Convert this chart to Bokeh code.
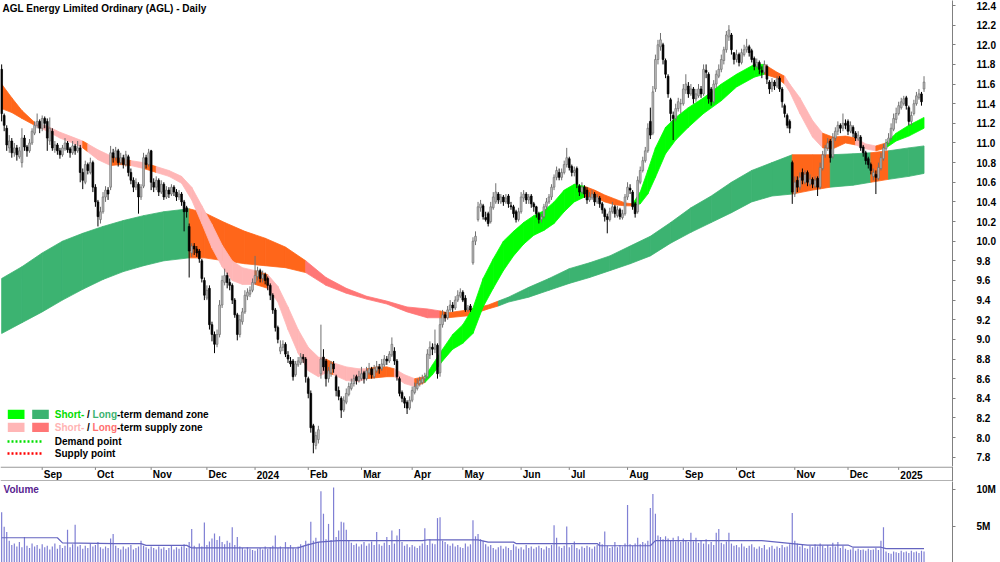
import numpy as np
import pandas as pd
from bokeh.plotting import figure
from bokeh.layouts import column
from bokeh.models import Range1d, FixedTicker, PrintfTickFormatter, ColumnDataSource, Span
from bokeh.core.properties import value
from bokeh.embed import file_html
from bokeh.resources import INLINE

# ---------------- data ----------------
START, END = "2023-08-10", "2025-01-16"
HOLIDAYS = ["2023-12-25", "2023-12-26", "2024-01-01", "2024-01-26", "2024-03-29",
            "2024-04-01", "2024-04-25", "2024-06-10", "2024-12-25", "2024-12-26", "2025-01-01"]

OPEN = [
    11.75, 11.28, 11.15, 10.95, 11.02, 10.90, 10.95, 10.86, 10.80, 11.05,
    10.96, 10.92, 11.00, 11.10, 11.18, 11.22, 11.15, 11.25, 11.22, 11.02,
    11.12, 10.93, 10.98, 10.92, 10.88, 10.94, 11.00, 10.94, 10.90, 10.97,
    10.92, 10.95, 10.70, 10.60, 10.78, 10.70, 10.80, 10.55, 10.40, 10.22,
    10.30, 10.45, 10.52, 10.55, 10.90, 10.85, 10.92, 10.80, 10.85, 10.78,
    10.86, 10.70, 10.62, 10.55, 10.58, 10.45, 10.56, 10.85, 10.78, 10.92,
    10.60, 10.55, 10.62, 10.50, 10.58, 10.45, 10.52, 10.48, 10.55, 10.50,
    10.45, 10.48, 10.40, 10.34, 10.15, 9.88, 9.95, 9.92, 9.90, 9.80,
    9.60, 9.42, 9.52, 9.15, 9.05, 8.95, 9.05, 9.35, 9.58, 9.65,
    9.58, 9.55, 9.40, 9.25, 9.05, 9.18, 9.28, 9.44, 9.46, 9.50,
    9.58, 9.64, 9.70, 9.62, 9.66, 9.62, 9.55, 9.45, 9.30, 9.12,
    8.88, 8.92, 8.95, 8.84, 8.78, 8.78, 8.64, 8.74, 8.76, 8.82,
    8.80, 8.60, 8.45, 8.12, 7.92, 7.98, 8.65, 8.82, 8.78, 8.60,
    8.66, 8.75, 8.62, 8.48, 8.40, 8.28, 8.36, 8.44, 8.50, 8.55,
    8.62, 8.58, 8.60, 8.66, 8.60, 8.66, 8.70, 8.62, 8.68, 8.72,
    8.70, 8.74, 8.80, 8.78, 8.84, 8.88, 8.78, 8.60, 8.46, 8.40,
    8.36, 8.30, 8.38, 8.46, 8.50, 8.55, 8.56, 8.60, 8.62, 8.84,
    8.92, 8.90, 8.94, 8.66, 9.15, 9.25, 9.22, 9.30, 9.35, 9.32,
    9.40, 9.44, 9.48, 9.42, 9.30, 9.34, 9.78, 10.00, 10.22, 10.34,
    10.36, 10.24, 10.28, 10.20, 10.34, 10.40, 10.48, 10.40, 10.45, 10.40,
    10.46, 10.36, 10.35, 10.30, 10.22, 10.30, 10.44, 10.48, 10.42, 10.46,
    10.38, 10.35, 10.28, 10.22, 10.25, 10.35, 10.40, 10.45, 10.55, 10.65,
    10.70, 10.65, 10.70, 10.78, 10.84, 10.76, 10.70, 10.74, 10.56, 10.50,
    10.55, 10.52, 10.42, 10.44, 10.48, 10.40, 10.44, 10.38, 10.32, 10.25,
    10.22, 10.30, 10.35, 10.26, 10.32, 10.24, 10.28, 10.45, 10.54, 10.50,
    10.38, 10.30, 10.60, 10.72, 10.82, 10.92, 11.22, 11.10, 11.55, 11.85,
    11.98, 12.00, 11.84, 11.68, 11.44, 11.28, 11.25, 11.35, 11.40, 11.40,
    11.54, 11.58, 11.50, 11.55, 11.45, 11.48, 11.55, 11.50, 11.74, 11.70,
    11.55, 11.42, 11.60, 11.68, 11.75, 11.84, 11.95, 12.08, 12.10, 11.92,
    11.85, 11.90, 11.82, 11.90, 11.95, 11.98, 11.94, 11.86, 11.78, 11.82,
    11.74, 11.72, 11.78, 11.62, 11.55, 11.62, 11.58, 11.66, 11.55, 11.38,
    11.28, 11.22, 10.80, 10.48, 10.62, 10.55, 10.70, 10.60, 10.70, 10.58,
    10.63, 10.56, 10.64, 10.55, 10.74, 10.88, 10.95, 11.02, 10.86, 11.05,
    11.12, 11.18, 11.15, 11.20, 11.22, 11.12, 11.16, 11.10, 11.04, 11.06,
    10.96, 10.90, 10.84, 10.78, 10.66, 10.68, 10.64, 10.74, 10.84, 10.94,
    11.00, 11.05, 11.14, 11.24, 11.30, 11.36, 11.40, 11.46, 11.36, 11.22,
    11.30, 11.40, 11.46, 11.50, 11.55,
]
HIGH = [
    11.80, 11.30, 11.18, 11.08, 11.05, 11.00, 10.98, 10.96, 11.15, 11.08,
    10.98, 11.04, 11.15, 11.22, 11.30, 11.24, 11.28, 11.27, 11.25, 11.26,
    11.15, 11.02, 11.00, 10.95, 10.98, 11.05, 11.02, 10.96, 11.02, 10.99,
    11.02, 10.98, 10.74, 10.82, 10.80, 10.85, 10.82, 10.58, 10.42, 10.35,
    10.50, 10.56, 10.55, 10.97, 10.94, 10.96, 10.94, 10.90, 10.88, 10.92,
    10.88, 10.74, 10.65, 10.64, 10.60, 10.58, 10.90, 10.88, 10.94, 10.93,
    10.64, 10.66, 10.64, 10.62, 10.60, 10.56, 10.55, 10.58, 10.57, 10.53,
    10.52, 10.50, 10.42, 10.36, 10.18, 9.98, 9.98, 9.95, 9.92, 9.82,
    9.63, 9.55, 9.55, 9.18, 9.08, 9.10, 9.40, 9.65, 9.72, 9.68,
    9.62, 9.57, 9.42, 9.27, 9.25, 9.32, 9.50, 9.52, 9.54, 9.62,
    9.85, 9.74, 9.72, 9.70, 9.68, 9.64, 9.57, 9.47, 9.32, 9.14,
    8.99, 8.99, 8.97, 8.88, 8.82, 8.80, 8.78, 8.82, 8.86, 8.85,
    8.82, 8.62, 8.48, 8.14, 8.06, 8.12, 9.15, 8.90, 8.80, 8.72,
    8.78, 8.78, 8.64, 8.52, 8.42, 8.42, 8.50, 8.56, 8.60, 8.64,
    8.64, 8.68, 8.72, 8.68, 8.72, 8.76, 8.72, 8.74, 8.78, 8.75,
    8.80, 8.84, 8.83, 8.88, 9.02, 8.92, 8.80, 8.62, 8.48, 8.42,
    8.38, 8.42, 8.52, 8.56, 8.60, 8.62, 8.64, 8.66, 8.90, 8.98,
    8.96, 9.10, 8.96, 9.22, 9.30, 9.28, 9.34, 9.40, 9.38, 9.44,
    9.50, 9.52, 9.50, 9.45, 9.35, 9.36, 10.04, 10.10, 10.40, 10.42,
    10.38, 10.30, 10.30, 10.40, 10.50, 10.59, 10.50, 10.48, 10.47, 10.48,
    10.48, 10.40, 10.37, 10.32, 10.34, 10.50, 10.52, 10.50, 10.48, 10.48,
    10.40, 10.36, 10.30, 10.28, 10.38, 10.44, 10.48, 10.58, 10.68, 10.76,
    10.74, 10.74, 10.82, 10.95, 10.86, 10.78, 10.76, 10.76, 10.58, 10.60,
    10.57, 10.55, 10.50, 10.52, 10.50, 10.48, 10.46, 10.40, 10.34, 10.28,
    10.34, 10.40, 10.37, 10.36, 10.34, 10.32, 10.48, 10.60, 10.58, 10.52,
    10.40, 10.66, 10.76, 10.86, 10.96, 11.20, 11.36, 11.58, 11.90, 12.05,
    12.12, 12.02, 11.86, 11.70, 11.46, 11.32, 11.40, 11.46, 11.45, 11.60,
    11.70, 11.62, 11.60, 11.57, 11.55, 11.60, 11.58, 11.80, 11.80, 11.72,
    11.57, 11.64, 11.74, 11.80, 11.90, 11.98, 12.14, 12.20, 12.12, 11.92,
    11.95, 11.92, 11.96, 12.00, 12.06, 12.00, 11.96, 11.88, 11.86, 11.84,
    11.78, 11.84, 11.80, 11.64, 11.66, 11.64, 11.68, 11.68, 11.57, 11.40,
    11.30, 11.24, 10.82, 10.66, 10.66, 10.70, 10.74, 10.72, 10.72, 10.68,
    10.65, 10.66, 10.66, 10.80, 10.92, 10.98, 11.05, 11.04, 11.10, 11.16,
    11.22, 11.20, 11.30, 11.24, 11.24, 11.22, 11.18, 11.12, 11.12, 11.08,
    10.98, 10.92, 10.86, 10.80, 10.74, 10.72, 10.80, 10.90, 10.99, 11.04,
    11.10, 11.20, 11.30, 11.36, 11.42, 11.46, 11.48, 11.48, 11.38, 11.32,
    11.44, 11.52, 11.55, 11.52, 11.68,
]
LOW = [
    11.22, 11.12, 10.92, 10.90, 10.85, 10.86, 10.82, 10.84, 10.75, 10.92,
    10.86, 10.90, 10.98, 11.08, 11.15, 11.10, 11.12, 11.15, 10.92, 10.98,
    10.92, 10.90, 10.88, 10.84, 10.86, 10.92, 10.90, 10.85, 10.88, 10.88,
    10.90, 10.60, 10.53, 10.58, 10.68, 10.68, 10.50, 10.35, 10.15, 10.18,
    10.28, 10.40, 10.42, 10.52, 10.80, 10.82, 10.76, 10.78, 10.74, 10.76,
    10.66, 10.58, 10.50, 10.52, 10.28, 10.42, 10.54, 10.74, 10.76, 10.52,
    10.50, 10.52, 10.46, 10.48, 10.42, 10.43, 10.44, 10.46, 10.46, 10.41,
    10.42, 10.36, 10.10, 10.24, 9.63, 9.84, 9.86, 9.84, 9.78, 9.58,
    9.40, 9.40, 9.10, 8.98, 8.86, 8.92, 9.02, 9.32, 9.55, 9.52,
    9.50, 9.36, 9.22, 8.99, 9.02, 9.15, 9.26, 9.40, 9.43, 9.48,
    9.56, 9.60, 9.58, 9.58, 9.56, 9.50, 9.40, 9.26, 9.08, 8.96,
    8.85, 8.88, 8.82, 8.76, 8.72, 8.58, 8.62, 8.72, 8.74, 8.76,
    8.56, 8.40, 8.05, 7.84, 7.88, 7.94, 8.60, 8.68, 8.52, 8.56,
    8.62, 8.66, 8.42, 8.38, 8.20, 8.26, 8.34, 8.42, 8.48, 8.52,
    8.54, 8.56, 8.58, 8.55, 8.58, 8.64, 8.60, 8.60, 8.66, 8.65,
    8.68, 8.72, 8.74, 8.76, 8.82, 8.74, 8.58, 8.42, 8.36, 8.30,
    8.24, 8.28, 8.36, 8.44, 8.48, 8.52, 8.54, 8.56, 8.60, 8.80,
    8.84, 8.86, 8.60, 8.62, 9.12, 9.18, 9.20, 9.28, 9.28, 9.30,
    9.38, 9.42, 9.38, 9.28, 9.28, 9.28, 9.76, 9.96, 10.20, 10.30,
    10.22, 10.20, 10.15, 10.18, 10.32, 10.38, 10.38, 10.38, 10.36, 10.38,
    10.34, 10.32, 10.24, 10.19, 10.20, 10.28, 10.40, 10.38, 10.38, 10.34,
    10.30, 10.24, 10.18, 10.19, 10.23, 10.32, 10.38, 10.42, 10.52, 10.62,
    10.62, 10.62, 10.68, 10.75, 10.72, 10.66, 10.66, 10.54, 10.46, 10.48,
    10.44, 10.38, 10.40, 10.42, 10.36, 10.38, 10.34, 10.28, 10.20, 10.08,
    10.20, 10.28, 10.24, 10.24, 10.22, 10.22, 10.26, 10.42, 10.48, 10.32,
    10.24, 10.28, 10.58, 10.70, 10.80, 10.90, 11.04, 11.08, 11.52, 11.80,
    11.94, 11.80, 11.66, 11.46, 11.22, 11.03, 11.22, 11.32, 11.30, 11.38,
    11.50, 11.46, 11.48, 11.40, 11.42, 11.46, 11.46, 11.48, 11.66, 11.40,
    11.38, 11.40, 11.56, 11.66, 11.72, 11.80, 11.92, 12.04, 11.90, 11.80,
    11.82, 11.78, 11.80, 11.88, 11.92, 11.88, 11.82, 11.74, 11.76, 11.70,
    11.66, 11.70, 11.60, 11.50, 11.52, 11.54, 11.56, 11.52, 11.36, 11.26,
    11.15, 11.10, 10.38, 10.45, 10.50, 10.52, 10.58, 10.58, 10.56, 10.56,
    10.54, 10.54, 10.46, 10.53, 10.72, 10.85, 10.92, 10.80, 10.84, 11.02,
    11.08, 11.10, 11.12, 11.14, 11.08, 11.10, 11.06, 11.02, 11.02, 10.92,
    10.86, 10.78, 10.74, 10.68, 10.62, 10.48, 10.62, 10.72, 10.82, 10.92,
    10.98, 11.02, 11.12, 11.20, 11.28, 11.34, 11.38, 11.34, 11.18, 11.18,
    11.28, 11.38, 11.44, 11.38, 11.52,
]
CLOSE = [
    11.30, 11.18, 10.98, 11.02, 10.90, 10.95, 10.88, 10.92, 11.05, 10.96,
    10.92, 11.00, 11.12, 11.18, 11.22, 11.15, 11.25, 11.20, 11.05, 11.15,
    10.95, 10.98, 10.92, 10.88, 10.95, 11.00, 10.93, 10.90, 10.97, 10.92,
    10.95, 10.70, 10.62, 10.78, 10.72, 10.80, 10.55, 10.40, 10.25, 10.30,
    10.45, 10.52, 10.48, 10.90, 10.85, 10.92, 10.80, 10.85, 10.78, 10.88,
    10.70, 10.62, 10.55, 10.60, 10.45, 10.55, 10.85, 10.78, 10.90, 10.60,
    10.55, 10.62, 10.50, 10.58, 10.45, 10.52, 10.48, 10.55, 10.50, 10.45,
    10.48, 10.40, 10.30, 10.30, 9.90, 9.95, 9.92, 9.88, 9.82, 9.62,
    9.45, 9.50, 9.15, 9.05, 8.95, 9.05, 9.35, 9.60, 9.65, 9.58,
    9.55, 9.40, 9.25, 9.05, 9.20, 9.28, 9.45, 9.48, 9.50, 9.58,
    9.65, 9.70, 9.62, 9.66, 9.60, 9.55, 9.45, 9.30, 9.12, 9.00,
    8.92, 8.95, 8.85, 8.80, 8.75, 8.62, 8.75, 8.78, 8.82, 8.80,
    8.62, 8.45, 8.10, 7.95, 8.02, 8.08, 8.80, 8.72, 8.60, 8.68,
    8.75, 8.70, 8.48, 8.42, 8.28, 8.38, 8.45, 8.52, 8.55, 8.60,
    8.58, 8.62, 8.65, 8.60, 8.68, 8.70, 8.64, 8.70, 8.72, 8.70,
    8.75, 8.80, 8.78, 8.85, 8.95, 8.78, 8.62, 8.45, 8.40, 8.35,
    8.30, 8.38, 8.48, 8.52, 8.55, 8.58, 8.60, 8.62, 8.85, 8.92,
    8.90, 8.95, 8.65, 9.15, 9.25, 9.22, 9.30, 9.35, 9.32, 9.40,
    9.45, 9.48, 9.40, 9.30, 9.32, 9.30, 10.00, 10.05, 10.35, 10.38,
    10.25, 10.22, 10.18, 10.35, 10.45, 10.50, 10.42, 10.45, 10.40, 10.44,
    10.38, 10.35, 10.28, 10.22, 10.30, 10.45, 10.48, 10.42, 10.45, 10.38,
    10.35, 10.28, 10.22, 10.25, 10.35, 10.40, 10.45, 10.55, 10.65, 10.72,
    10.65, 10.70, 10.78, 10.85, 10.75, 10.70, 10.72, 10.58, 10.50, 10.55,
    10.48, 10.42, 10.45, 10.48, 10.40, 10.45, 10.38, 10.32, 10.25, 10.22,
    10.30, 10.35, 10.28, 10.32, 10.25, 10.28, 10.45, 10.55, 10.52, 10.35,
    10.28, 10.62, 10.72, 10.82, 10.92, 11.15, 11.08, 11.52, 11.85, 12.00,
    12.05, 11.85, 11.70, 11.50, 11.30, 11.25, 11.35, 11.42, 11.40, 11.55,
    11.60, 11.50, 11.55, 11.45, 11.50, 11.55, 11.50, 11.75, 11.72, 11.45,
    11.42, 11.60, 11.70, 11.75, 11.85, 11.95, 12.10, 12.15, 11.95, 11.85,
    11.90, 11.82, 11.92, 11.95, 11.98, 11.92, 11.85, 11.78, 11.82, 11.75,
    11.72, 11.80, 11.65, 11.55, 11.62, 11.58, 11.65, 11.55, 11.42, 11.30,
    11.18, 11.15, 10.50, 10.60, 10.55, 10.65, 10.62, 10.68, 10.60, 10.63,
    10.58, 10.62, 10.55, 10.75, 10.88, 10.95, 11.00, 10.85, 11.05, 11.12,
    11.18, 11.15, 11.20, 11.18, 11.12, 11.18, 11.10, 11.05, 11.08, 10.95,
    10.90, 10.82, 10.78, 10.72, 10.70, 10.65, 10.75, 10.85, 10.95, 11.00,
    11.05, 11.15, 11.25, 11.30, 11.38, 11.42, 11.45, 11.38, 11.22, 11.28,
    11.40, 11.48, 11.50, 11.42, 11.62,
]
VOLUME_M = [
    6.9, 4.9, 4.2, 3.0, 2.4, 2.6, 2.2, 2.8, 2.1, 3.5,
    2.3, 2.0, 2.6, 2.2, 2.4, 1.9, 2.5, 2.1, 2.3, 1.8,
    2.2, 2.6, 1.9, 2.4, 2.0, 2.3, 4.5, 2.1, 2.5, 5.2,
    2.2, 2.4, 1.9, 2.3, 2.0, 2.6, 2.2, 2.4, 2.8, 2.1,
    1.9, 2.2, 2.0, 3.3, 3.9, 2.3, 2.0, 1.8, 2.2, 1.9,
    2.1, 2.4, 1.8, 2.0, 2.2, 3.0, 2.3, 2.1, 1.9, 2.2,
    2.0, 1.8, 2.2, 1.9, 2.1, 1.7, 2.0, 2.3, 1.8, 2.1,
    1.9, 2.2, 2.5, 2.0, 2.8, 4.6, 2.3, 2.0, 2.6, 2.2,
    5.5, 2.4, 2.9, 3.3, 4.0, 3.1, 3.6, 2.8, 2.5, 3.0,
    2.7, 4.85, 2.4, 3.5, 2.2, 2.0, 1.8, 2.1, 1.9, 1.7,
    1.6, 1.9, 2.0, 1.8, 2.2, 1.9, 2.1, 2.3, 3.7, 2.0,
    2.2, 1.9, 2.8, 2.1, 2.4, 2.0, 1.9, 2.2, 2.5, 2.3,
    3.0, 2.6, 5.6, 3.0, 3.4, 2.8, 9.8, 6.7, 3.2, 5.3,
    3.1, 10.3, 3.5, 4.4, 5.6, 5.5, 4.5, 3.0, 2.7, 2.4,
    2.6, 2.2, 2.5, 2.8, 2.3, 2.6, 2.9, 2.4, 4.2, 2.5,
    2.3, 2.7, 3.5, 2.4, 4.4, 2.6, 3.7, 4.6, 2.8, 2.3,
    2.5, 2.1, 2.4, 2.2, 2.0, 2.3, 2.6, 4.7, 2.4, 3.2,
    2.6, 2.5, 6.1, 6.2, 3.0, 2.8, 2.5, 2.3, 2.6, 2.2,
    2.4, 2.1, 2.0, 2.6, 2.2, 2.5, 5.8, 3.6, 3.9, 3.2,
    3.0, 2.5, 2.2, 2.4, 2.0, 1.8, 2.1, 2.3, 1.9, 2.2,
    2.0, 1.7, 2.5, 2.2, 1.9, 2.1, 1.8, 2.4, 2.0, 2.2,
    1.9, 2.1, 2.3, 2.0, 1.8, 2.2, 2.0, 2.4, 5.1, 3.4,
    2.2, 2.0, 2.3, 4.95, 2.1, 2.4, 2.9, 2.0, 1.8, 2.2,
    2.0, 2.3, 2.1, 1.9, 2.2, 2.4, 2.8, 2.5, 4.25, 2.3,
    2.0, 2.2, 2.8, 2.1, 2.4, 2.2, 2.6, 7.9, 2.5, 2.3,
    2.6, 3.4, 2.5, 2.8, 2.6, 3.0, 7.5, 9.4, 6.7, 3.7,
    3.5, 3.2, 3.6, 3.3, 3.0, 3.4, 2.9, 3.6, 2.8, 3.3,
    3.1, 2.8, 4.1, 2.9, 3.4, 2.7, 3.0, 2.6, 3.2, 2.5,
    2.8, 2.4, 4.1, 4.6, 2.7, 2.5, 2.9, 4.1, 2.6, 2.3,
    2.4, 2.1, 2.6, 2.2, 2.0, 2.3, 2.5, 2.1, 1.9, 2.2,
    2.0, 2.4, 1.8, 2.1, 2.3, 1.9, 2.2, 2.0, 2.4, 2.1,
    2.2, 2.5, 6.8, 3.0, 2.6, 2.2, 2.4, 2.0, 1.9, 2.3,
    2.1, 2.5, 2.2, 2.6, 2.3, 2.0, 2.4, 2.1, 2.7, 2.2,
    2.8, 2.0, 2.3, 1.9, 1.7, 1.8, 2.0, 1.6, 1.9, 1.7,
    1.8, 1.6, 1.9, 1.7, 1.8, 2.0, 1.7, 3.0, 4.85, 1.5,
    1.3, 1.2, 1.5, 1.4, 1.3, 1.6, 1.4, 1.5, 1.3, 1.6,
    1.4, 1.5, 1.3, 1.6, 1.5,
]
# volume moving-average line (knots: trading-day index, millions)
VMA_IDX = [0, 22, 24, 45, 55, 57, 73, 75, 117, 120, 125, 133, 166, 168, 188, 192, 202, 203,
           235, 236, 256, 258, 300, 318, 334, 336, 347, 349, 364]
VMA_M = [3.4, 3.4, 2.7, 2.6, 2.6, 2.35, 2.35, 2.0, 2.0, 2.35, 2.8, 3.0, 3.0, 3.1, 3.1, 2.8, 2.8, 2.6,
         2.6, 2.3, 2.3, 3.0, 3.0, 2.4, 2.4, 2.1, 2.1, 1.9, 1.9]

# short-term zone edges (knots: trading-day index) and zone state after each knot
SHORT_IDX = [0, 4, 8, 13, 18, 23, 28, 32, 34, 38,
             43, 47, 51, 56, 61, 66, 71, 75, 79, 83,
             87, 91, 95, 100, 105, 109, 113, 117, 121, 125,
             128, 131, 136, 141, 144, 148, 152, 155, 159, 163,
             167, 170, 174, 178, 182, 186, 190, 194, 198, 202,
             206, 210, 214, 218, 222, 226, 230, 234, 238, 242,
             246, 249, 252, 255, 258, 262, 266, 271, 277, 284,
             290, 297, 301, 306, 309, 311, 315, 320, 324, 328,
             333, 337, 341, 345, 349, 353, 358, 364]
SHORT_TOP = [11.60, 11.46, 11.33, 11.21, 11.17, 11.11, 11.06, 11.02, 10.99, 10.93,
             10.87, 10.84, 10.82, 10.80, 10.76, 10.72, 10.66, 10.55, 10.36, 10.17,
             9.96, 9.80, 9.73, 9.70, 9.66, 9.54, 9.33, 9.10, 8.92, 8.82,
             8.80, 8.76, 8.72, 8.70, 8.70, 8.72, 8.72, 8.70, 8.64, 8.60,
             8.62, 8.74, 8.90, 9.05, 9.15, 9.32, 9.62, 9.82, 10.00, 10.10,
             10.19, 10.26, 10.31, 10.40, 10.52, 10.58, 10.56, 10.52, 10.47, 10.43,
             10.39, 10.38, 10.50, 10.72, 10.95, 11.16, 11.26, 11.36, 11.46, 11.60,
             11.70, 11.80, 11.80, 11.72, 11.68, 11.60, 11.46, 11.23, 11.10, 11.06,
             11.07, 11.05, 10.99, 10.97, 11.00, 11.10, 11.18, 11.26]
SHORT_BOT = [11.35, 11.31, 11.25, 11.18, 11.12, 11.05, 11.00, 10.95, 10.91, 10.83,
             10.77, 10.78, 10.77, 10.74, 10.70, 10.66, 10.59, 10.42, 10.18, 9.93,
             9.74, 9.60, 9.56, 9.56, 9.52, 9.38, 9.10, 8.86, 8.68, 8.62,
             8.66, 8.64, 8.58, 8.57, 8.60, 8.61, 8.62, 8.62, 8.55, 8.52,
             8.56, 8.64, 8.78, 8.90, 8.96, 9.06, 9.33, 9.52, 9.70, 9.85,
             9.97, 10.06, 10.11, 10.18, 10.30, 10.40, 10.45, 10.45, 10.40, 10.37,
             10.36, 10.36, 10.38, 10.48, 10.65, 10.89, 11.03, 11.16, 11.30, 11.43,
             11.57, 11.67, 11.70, 11.66, 11.60, 11.52, 11.30, 11.06, 10.95, 10.94,
             11.00, 10.98, 10.94, 10.92, 10.95, 11.02, 11.07, 11.15]
SHORT_STATE = list("OOOPPPPOPP" "OOPOPPPPPP" "PPPOPPPPPP" "OPPPOOOPPO" "GGGGGGGGGG"
                   "GGGGGGOOOO" "OGGGGGGGGG" "GGOOPPPPOO" "OPPOGGGG")

# long-term zone edges
LONG_IDX = [0, 8, 16, 24, 32, 40, 48, 56, 64, 74,
            80, 88, 96, 104, 112, 120, 128, 136, 144, 152,
            160, 168, 173, 176, 184, 192, 196, 200, 208, 216,
            224, 232, 240, 248, 256, 264, 272, 280, 288, 296,
            304, 312, 320, 327, 336, 343, 350, 358, 364]
LONG_TOP = [9.62, 9.74, 9.88, 10.00, 10.08, 10.15, 10.21, 10.26, 10.30, 10.33,
            10.29, 10.19, 10.10, 10.03, 9.94, 9.80, 9.63, 9.52, 9.44, 9.39,
            9.33, 9.31, 9.29, 9.27, 9.30, 9.35, 9.39, 9.43, 9.53, 9.62,
            9.72, 9.78, 9.85, 9.95, 10.05, 10.19, 10.34, 10.46, 10.60, 10.72,
            10.80, 10.88, 10.88, 10.88, 10.89, 10.90, 10.92, 10.95, 10.97]
LONG_BOT = [9.06, 9.17, 9.28, 9.40, 9.51, 9.61, 9.69, 9.75, 9.80, 9.83,
            9.83, 9.80, 9.77, 9.75, 9.73, 9.68, 9.55, 9.47, 9.41, 9.36,
            9.28, 9.22, 9.22, 9.22, 9.24, 9.31, 9.34, 9.38, 9.43, 9.50,
            9.57, 9.63, 9.70, 9.77, 9.85, 9.98, 10.09, 10.19, 10.29, 10.40,
            10.46, 10.48, 10.52, 10.55, 10.57, 10.60, 10.63, 10.66, 10.69]
LONG_STATE = list("GGGGGGGGGOOOOOOSSSSSSSOOOOGGGGGGGGGGGGGGGOOGGOGGG")

PRICE_TICKS = [7.8, 8.0, 8.2, 8.4, 8.6, 8.8, 9.0, 9.2, 9.4, 9.6, 9.8, 10.0, 10.2,
               10.4, 10.6, 10.8, 11.0, 11.2, 11.4, 11.6, 11.8, 12.0, 12.2, 12.4]
VOL_TICKS = [5, 10]
VOL_TICK_LABELS = ["5M", "10M"]
MONTH_LABELS = ["Sep", "Oct", "Nov", "Dec", "2024", "Feb", "Mar", "Apr", "May", "Jun",
                "Jul", "Aug", "Sep", "Oct", "Nov", "Dec", "2025"]
TITLE = "AGL Energy Limited Ordinary (AGL) - Daily"

# ---------------- styling / layout constants ----------------
FONT = "Liberation Sans"
FV = value(FONT)
W = 1000
PRICE_H, STRIP_H, VOL_H = 466, 15, 81
RIGHT = 48
GREY = "#808080"
C_SHORT = {"G": "#00ff00", "P": "#ffb6b6", "O": "#ff661a"}
C_LONG = {"G": "#3cb371", "S": "#ff7676", "O": "#ff661a"}

# pixel helpers (frame: 952 px wide, price 466 px high)
def X(px):
    return (px - 1.15) / 2.534

def Y(py):
    return 12.4 - (py - 5) / 98.2

# ---------------- dates ----------------
dates = pd.bdate_range(START, END)
dates = dates[~dates.isin(pd.to_datetime(HOLIDAYS))]
n = min(len(dates), len(CLOSE), len(OPEN), len(HIGH), len(LOW), len(VOLUME_M))
dates = dates[:n]
idx = np.arange(n)
o = np.array(OPEN[:n]); c = np.array(CLOSE[:n])
h = np.maximum(np.array(HIGH[:n]), np.maximum(o, c))
l = np.minimum(np.array(LOW[:n]), np.minimum(o, c))

month_pos = []
for i in range(1, n):
    if dates[i].month != dates[i - 1].month:
        month_pos.append(i)
labels = MONTH_LABELS[:len(month_pos)]
month_pos = month_pos[:len(labels)]

xr = Range1d(X(0), X(952))

def base_fig(height, yr):
    f = figure(width=W, height=height, x_range=xr, y_range=yr, output_backend="svg",
               toolbar_location=None, x_axis_location=None, y_axis_location="right",
               min_border_left=0, min_border_right=RIGHT, min_border_top=0, min_border_bottom=0,
               outline_line_color=None, background_fill_color="white", border_fill_color="white")
    f.grid.visible = False
    ax = f.yaxis[0]
    ax.axis_line_color = GREY
    ax.major_tick_line_color = GREY
    ax.major_tick_out = 3
    ax.major_tick_in = 0
    ax.minor_tick_line_color = None
    ax.major_label_text_font = FONT
    ax.major_label_text_font_style = "bold"
    ax.major_label_text_font_size = "10px"
    ax.major_label_text_color = "black"
    ax.major_label_standoff = 21
    return f

# ---------------- price panel ----------------
price = base_fig(PRICE_H, Range1d(Y(PRICE_H), Y(0)))
price.yaxis[0].ticker = FixedTicker(ticks=PRICE_TICKS)
price.yaxis[0].formatter = PrintfTickFormatter(format="%.1f")

def band(fig, kx, top, bot, states, cmap):
    xs, ys, cs = [], [], []
    for k in range(len(kx) - 1):
        xs.append([kx[k], kx[k + 1], kx[k + 1], kx[k]])
        ys.append([top[k], top[k + 1], bot[k + 1], bot[k]])
        cs.append(cmap[states[k]])
    src = ColumnDataSource(dict(xs=xs, ys=ys, c=cs))
    fig.patches(xs="xs", ys="ys", fill_color="c", line_color="c", line_width=0.8, source=src)

band(price, LONG_IDX, LONG_TOP, LONG_BOT, LONG_STATE, C_LONG)
band(price, SHORT_IDX, SHORT_TOP, SHORT_BOT, SHORT_STATE, C_SHORT)

up = c >= o
dn = ~up
su = ColumnDataSource(dict(x=idx[up], o=o[up], c=c[up], h=h[up], l=l[up]))
sd = ColumnDataSource(dict(x=idx[dn], o=o[dn], c=c[dn], h=h[dn], l=l[dn]))
price.segment(x0="x", y0="l", x1="x", y1="h", source=su, line_color="#707070", line_width=1)
price.vbar(x="x", width=0.7, top="c", bottom="o", source=su,
           fill_color="#c0c0c0", line_color="#707070", line_width=0.7)
price.segment(x0="x", y0="l", x1="x", y1="h", source=sd, line_color="black", line_width=1)
price.vbar(x="x", width=0.7, top="o", bottom="c", source=sd,
           fill_color="black", line_color="black", line_width=0.7)

def txt(fig, x, y, s, color="black", size="10px"):
    fig.text(x=[x], y=[y], text=[s], text_font=FV, text_font_size=size,
             text_font_style="bold", text_color=color, text_align="left",
             text_baseline="middle")

txt(price, X(2), Y(7.5), TITLE)

# legend
price.quad(left=[X(7.3), X(31.7), X(7.3), X(31.7)], right=[X(24), X(48.3), X(24), X(48.3)],
           top=[Y(409.3), Y(409.3), Y(422.3), Y(422.3)],
           bottom=[Y(418.5), Y(418.5), Y(431.5), Y(431.5)],
           fill_color=[C_SHORT["G"], C_LONG["G"], C_SHORT["P"], C_LONG["S"]], line_color=None)
rows = [(414, "#00dd00", "#3cb371", "-term demand zone"),
        (427, "#ffb3b3", "#ff7070", "-term supply zone")]
for py, c1, c2, rest in rows:
    txt(price, X(54.3), Y(py), "Short-", c1)
    txt(price, X(86.5), Y(py), "/")
    txt(price, X(92.1), Y(py), "Long", c2)
    txt(price, X(116.5), Y(py), rest)
price.line(x=[X(7), X(43)], y=[Y(441), Y(441)], line_color="#00e000", line_width=2.5, line_dash="2 2")
price.line(x=[X(7), X(43)], y=[Y(453), Y(453)], line_color="#ff0000", line_width=2.5, line_dash="2 2")
txt(price, X(54.3), Y(441), "Demand point")
txt(price, X(54.3), Y(453), "Supply point")

# ---------------- date strip ----------------
strip = base_fig(STRIP_H, Range1d(0, STRIP_H))
strip.yaxis[0].ticker = FixedTicker(ticks=[])
strip.add_layout(Span(location=14.4, dimension="width", line_color="#999999", line_width=1.3))
strip.add_layout(Span(location=0.6, dimension="width", line_color="#999999", line_width=1.3))
strip.segment(x0=month_pos, y0=[14.4] * len(month_pos), x1=month_pos, y1=[11.6] * len(month_pos),
              line_color=GREY, line_width=1)
strip.text(x=[p + 0.65 for p in month_pos], y=[7.0] * len(month_pos), text=labels,
           text_font=FV, text_font_size="10px", text_font_style="bold", text_color="black",
           text_align="left", text_baseline="middle")

# ---------------- volume panel ----------------
vol = base_fig(VOL_H, Range1d(0, VOL_H / 7.28))
vol.yaxis[0].ticker = FixedTicker(ticks=VOL_TICKS)
vol.yaxis[0].major_label_overrides = {t: s for t, s in zip(VOL_TICKS, VOL_TICK_LABELS)}
vmsrc = ColumnDataSource(dict(x=idx, v=np.array(VOLUME_M[:n])))
vol.segment(x0="x", y0=0, x1="x", y1="v", source=vmsrc, line_color="#7f7fd4", line_width=1.2)
vol.line(x=VMA_IDX, y=VMA_M, line_color="#6464c0", line_width=1.2)
vol.text(x=[X(3)], y=[(562 - 489) / 7.28], text=["Volume"], text_font=FV, text_font_size="10px",
         text_font_style="bold", text_color="#58238f", text_align="left", text_baseline="middle")

layout = column(price, strip, vol, spacing=0)
open("out.html", "w").write(file_html(layout, INLINE))
